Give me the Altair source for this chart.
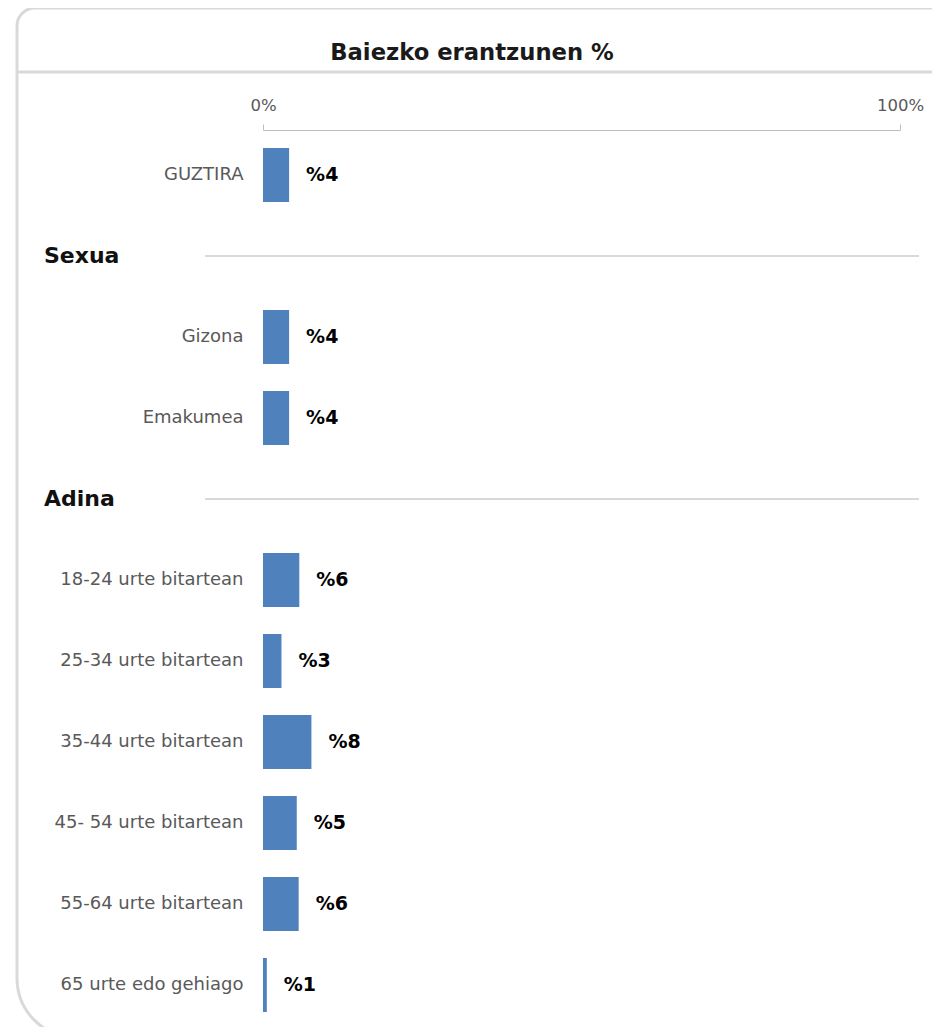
import altair as alt
import pandas as pd

# ---- data ----
row_order = ["GUZTIRA", "Sexua", "Gizona", "Emakumea", "Adina",
             "18-24 urte bitartean", "25-34 urte bitartean", "35-44 urte bitartean",
             "45- 54 urte bitartean", "55-64 urte bitartean", "65 urte edo gehiago"]
headers = ["Sexua", "Adina"]
bar_categories = ["GUZTIRA", "Gizona", "Emakumea",
                  "18-24 urte bitartean", "25-34 urte bitartean", "35-44 urte bitartean",
                  "45- 54 urte bitartean", "55-64 urte bitartean", "65 urte edo gehiago"]
bar_values = [4.1, 4.1, 4.1, 5.7, 2.9, 7.6, 5.3, 5.6, 0.6]
axis_ticks = [0, 100]
title_text = "Baiezko erantzunen %"

FONT = "DejaVu Sans"
BLUE = "#4f81bd"
GRAY_TXT = "#595959"
LINE = "#d9d9d9"

bars_df = pd.DataFrame({"cat": bar_categories, "value": bar_values})
head_df = pd.DataFrame({"cat": headers})
one = pd.DataFrame({"k": [0]})

yscale = alt.Scale(domain=row_order, range=[0, 900], paddingInner=0.333, paddingOuter=0.222)
xscale = alt.Scale(domain=[0, 100], nice=False)

header_expr = "indexof(['Sexua','Adina'], datum.value) >= 0 ? '' : datum.value"

card = alt.Chart(one).mark_rect(
    fillOpacity=0, stroke=LINE, strokeWidth=3,
    cornerRadiusTopLeft=18, cornerRadiusTopRight=18, cornerRadiusBottomLeft=60
).encode(
    x=alt.value(-246), x2=alt.value(720), y=alt.value(-122), y2=alt.value(908)
)

title_rule = alt.Chart(one).mark_rule(stroke=LINE, strokeWidth=3).encode(
    x=alt.value(-246), x2=alt.value(720), y=alt.value(-58)
)

title = alt.Chart(one).mark_text(
    text=title_text, font=FONT, fontSize=22.7, fontWeight="bold", color="#1a1a1a",
    align="center", baseline="middle"
).encode(x=alt.value(209), y=alt.value(-77))

bars = alt.Chart(bars_df).mark_bar(color=BLUE).encode(
    x=alt.X("value:Q", scale=xscale,
            axis=alt.Axis(orient="top", values=axis_ticks, labelExpr="datum.value + '%'",
                          grid=False, domainColor="#bfbfbf", tickColor="#bfbfbf",
                          tickSize=6, labelPadding=11, labelColor=GRAY_TXT,
                          labelFlush=False, labelFontSize=16.5, labelFont=FONT,
                          title=None)),
    y=alt.Y("cat:N", scale=yscale, sort=row_order,
            axis=alt.Axis(domain=False, ticks=False, labelPadding=20, labelFontSize=18,
                          labelFont=FONT, labelColor=GRAY_TXT, labelExpr=header_expr,
                          labelLimit=0, title=None)),
)

labels = alt.Chart(bars_df).transform_calculate(
    label="'%' + format(datum.value, '.0f')"
).mark_text(
    align="left", baseline="middle", dx=17, font=FONT, fontSize=19,
    fontWeight="bold", color="#000000"
).encode(
    x=alt.X("value:Q", scale=xscale),
    y=alt.Y("cat:N", scale=yscale, sort=row_order),
    text="label:N",
)

head_text = alt.Chart(head_df).mark_text(
    align="left", baseline="middle", font=FONT, fontSize=22, fontWeight="bold",
    color="#111111"
).encode(
    x=alt.value(-219),
    y=alt.Y("cat:N", scale=yscale, sort=row_order),
    text="cat:N",
)

head_rule = alt.Chart(head_df).mark_rule(stroke=LINE, strokeWidth=2).encode(
    x=alt.value(-58), x2=alt.value(656),
    y=alt.Y("cat:N", scale=yscale, sort=row_order),
)

chart = alt.layer(card, title_rule, title, head_rule, head_text, bars, labels).properties(
    width=637, height=897,
    autosize=alt.AutoSizeParams(type="none"),
    padding={"left": 255, "top": 122, "right": 32, "bottom": 0},
    background="white",
).configure_view(stroke=None)

chart.save("out.html", embed_options={"renderer": "svg", "actions": False})
